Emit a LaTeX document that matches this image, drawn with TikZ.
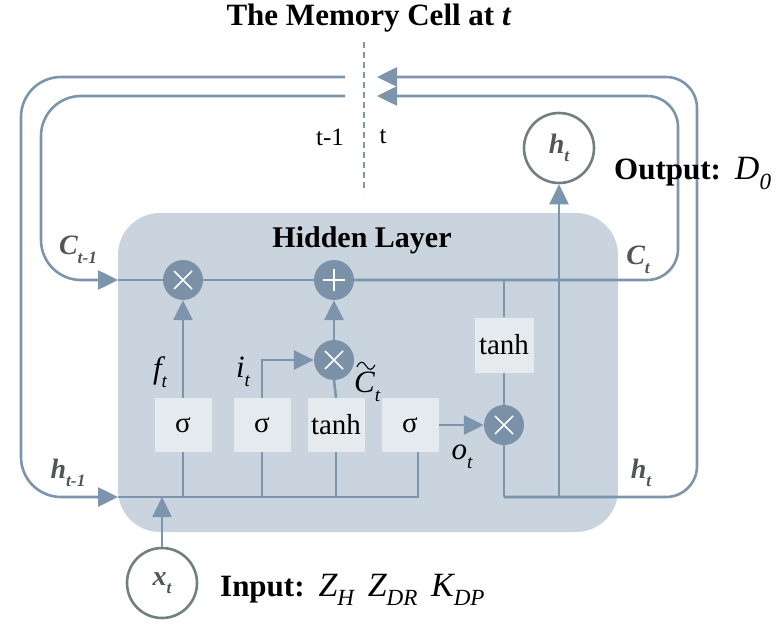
\documentclass[tikz,border=0pt]{standalone}
\usepackage{fontspec}
\setmainfont{Liberation Serif}
\usetikzlibrary{arrows.meta}
\definecolor{ln}{HTML}{7D95AC}
\definecolor{hid}{HTML}{C9D4DE}
\definecolor{gatef}{HTML}{E5EAEF}
\definecolor{opc}{HTML}{7A91A8}
\definecolor{ioc}{HTML}{707F80}
\definecolor{lab}{HTML}{505558}
\newcommand{\sbx}[2]{#1\raisebox{-0.3em}{\scalebox{0.62}{#2}}}
\newcommand{\msb}[2]{#1\raisebox{-0.28em}{\scalebox{0.68}{#2}}}
\begin{document}
\begin{tikzpicture}[x=1pt,y=-1pt,
  conn/.style={draw=ln, line width=2.6pt},
  arr/.style={conn, -{Triangle[length=20pt,width=19pt]}},
  gatebox/.style={fill=gatef, minimum width=57pt, minimum height=54pt, inner sep=0pt, font=\fontsize{29}{31}\selectfont},
  mulop/.style={circle, fill=opc, minimum size=40pt, inner sep=0pt,
    path picture={\draw[white,line width=1.6pt] ([shift={(-9pt,-9pt)}]path picture bounding box.center) -- ++(18pt,18pt);
                  \draw[white,line width=1.6pt] ([shift={(-9pt,9pt)}]path picture bounding box.center) -- ++(18pt,-18pt);}},
  addop/.style={circle, fill=opc, minimum size=40pt, inner sep=0pt,
    path picture={\draw[white,line width=1.6pt] ([shift={(-11pt,0pt)}]path picture bounding box.center) -- ++(22pt,0pt);
                  \draw[white,line width=1.6pt] ([shift={(0pt,-11pt)}]path picture bounding box.center) -- ++(0pt,22pt);}},
  iocirc/.style={circle, draw=ioc, line width=2.6pt, fill=white, minimum size=70pt, inner sep=0pt, text=lab, font=\fontsize{28}{30}\selectfont\bfseries\itshape},
  statelab/.style={text=lab, font=\fontsize{28}{30}\selectfont\bfseries\itshape, inner sep=0pt},
  gatelab/.style={font=\fontsize{31}{33}\selectfont\itshape, inner sep=0pt},
  big/.style={font=\fontsize{31}{34}\selectfont\bfseries, inner sep=0pt},
  hidl/.style={font=\fontsize{30}{33}\selectfont\bfseries, inner sep=0pt},
  small/.style={font=\fontsize{25}{27}\selectfont, inner sep=0pt}
]
\useasboundingbox (0,0) rectangle (782,631);

% title and time divider
\node[big] (title) at (369,18) {The Memory Cell at \textit{t}};
\coordinate (dtop) at (364,42);
\coordinate (dbot) at (364,192);
\draw[ln, line width=2pt, dash pattern=on 6pt off 4pt] (dtop) -- (dbot);
\node[small] (tm1) at (330,137) {t-1};
\node[small] (tt) at (383,137) {t};

% hidden layer
\node[fill=hid, rounded corners=42pt, minimum width=500pt, minimum height=319pt, inner sep=0pt] (hidden) at (368,372.5) {};
\node[hidl] (hl) at (362,240) {Hidden Layer};

% operations
\node[mulop] (mul1) at (183,280) {};
\node[addop] (add) at (334,280) {};
\node[mulop] (mul2) at (334,360) {};
\node[mulop] (mul3) at (504,425) {};

% gates
\node[gatebox] (g1) at (183,425) {σ};
\node[gatebox] (g2) at (262,425) {σ};
\node[gatebox] (g3) at (336,425) {tanh};
\node[gatebox] (g4) at (410,425) {σ};
\node[gatebox, minimum width=59pt, minimum height=55pt] (g5) at (504,345) {tanh};

% in/out
\node[iocirc] (ht) at (559,148) {\sbx{h}{t}};
\node[iocirc] (xt) at (162,583) {\sbx{x}{t}};

% coordinates of the loops
\coordinate (cin) at (118,280);
\coordinate (hin) at (118,497);
\coordinate (cl) at (345,96);
\coordinate (hl2) at (345,77);
\coordinate (cr) at (377,96);
\coordinate (hr) at (377,77);
\coordinate (bus4) at (418,497);
\coordinate (hb) at (504,497);

% cell state path
\draw[arr, rounded corners=40pt] (cl) -- (41,96) -- (41,280) -- (cin);
\draw[conn] (cin) -- (mul1) -- (add);
\draw[arr, rounded corners=31pt] (add.east) -- (678,280) -- (678,96) -- (cr);

% hidden state path
\draw[arr, rounded corners=40pt] (hl2) -- (21,77) -- (21,497) -- (hin);
\draw[conn] (hin) -- (bus4) -- (bus4 |- g4.south);
\draw[conn] (g1.south) -- (g1.south |- hin);
\draw[conn] (g2.south) -- (g2.south |- hin);
\draw[conn] (g3.south) -- (g3.south |- hin);
\draw[arr] (xt.north) -- (xt.north |- hin);

% gates to operations
\draw[arr] (g1.north) -- (mul1.south);
\draw[arr] (g2.north) |- (mul2.west);
\draw[conn] (g3.north) -- (mul2.south);
\draw[arr] (mul2.north) -- (add.south);
\draw[arr] (g4.east) -- (mul3.west);
\draw[conn] (g5.north |- add) -- (g5.north);
\draw[conn] (g5.south) -- (mul3.north);

% output
\draw[conn] (mul3.south) -- (hb);
\draw[arr, rounded corners=31pt] (hb) -- (697,497) -- (697,77) -- (hr);
\draw[arr] (ht.south |- hb) -- (ht.south);

% labels
\node[statelab] (lc1) at (78,250) {\sbx{C}{t-1}};
\node[statelab] (lh1) at (68,473) {\sbx{h}{t-1}};
\node[statelab] (lc) at (638,260) {\sbx{C}{t}};
\node[statelab] (lh) at (641,473) {\sbx{h}{t}};
\node[gatelab] (lf) at (160,372) {\sbx{f}{t}};
\node[gatelab] (li) at (243,372) {\sbx{i}{t}};
\node[gatelab, anchor=west] (lct) at (354,387) {\sbx{C}{t}};
\begin{scope}[shift={(lct.north west)}]
  \draw[line width=1.1pt] (3,-5) .. controls (6,-11) and (9,-11) .. (12,-6) .. controls (15,-1) and (18,-1) .. (21,-7);
\end{scope}
\node[gatelab] (lo) at (462,457) {\sbx{o}{t}};

\node[big, anchor=base west] (outl) at (614,180) {Output:\hspace{0.45em}{\fontsize{34}{36}\selectfont\mdseries\itshape\msb{D}{0}}};
\node[big, anchor=base west] (inl) at (220,596) {Input:\hspace{0.45em}{\fontsize{34}{36}\selectfont\mdseries\itshape\msb{Z}{H}\hspace{0.4em}\msb{Z}{DR}\hspace{0.4em}\msb{K}{DP}}};
\end{tikzpicture}
\end{document}
